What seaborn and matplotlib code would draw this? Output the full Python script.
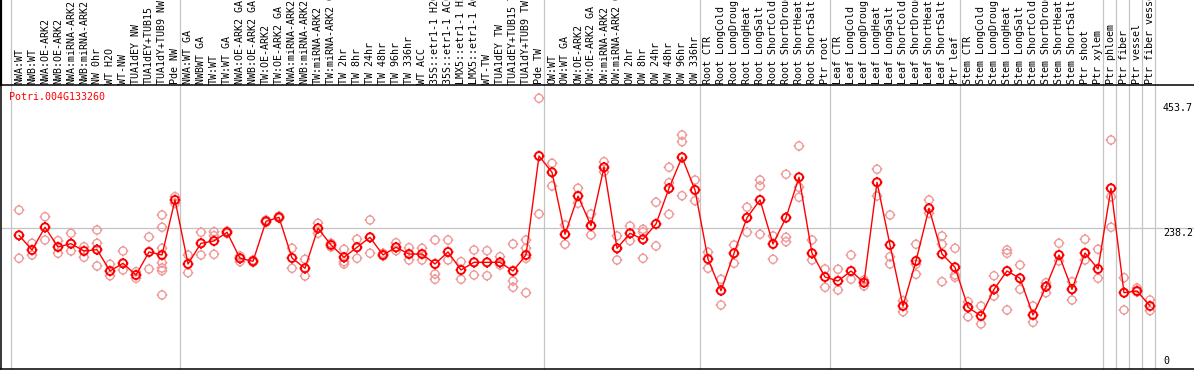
import numpy as np
import pandas as pd
import matplotlib
matplotlib.use("Agg")
import matplotlib.pyplot as plt
import seaborn as sns
from matplotlib.path import Path
from matplotlib.transforms import blended_transform_factory

gene = "Potri.004G133260"

samples = [
    "NWA:WT", "NWB:WT", "NWA:OE-ARK2", "NWB:OE-ARK2", "NWA:miRNA-ARK2", "NWB:miRNA-ARK2",
    "NW 0hr", "WT H2O", "WT-NW", "TUA1dEY NW", "TUA1dEY+TUB15", "TUA1dY+TUB9 NW", "Pde NW",
    "NWA:WT GA", "NWBWT GA", "TW:WT", "TW:WT GA", "NWA:OE-ARK2 GA", "NWB:OE-ARK2 GA",
    "TW:OE-ARK2", "TW:OE-ARK2 GA", "NWA:miRNA-ARK2 GA", "NWB:miRNA-ARK2 GA", "TW:miRNA-ARK2",
    "TW:miRNA-ARK2 GA", "TW 2hr", "TW 8hr", "TW 24hr", "TW 48hr", "TW 96hr", "TW 336hr", "WT ACC",
    "35S::etr1-1 H2O", "35S::etr1-1 ACC", "LMX5::etr1-1 H2O", "LMX5::etr1-1 ACC", "WT-TW",
    "TUA1dEY TW", "TUA1dEY+TUB15 TW", "TUA1dY+TUB9 TW", "Pde TW",
    "OW:WT", "OW:WT GA", "OW:OE-ARK2", "OW:OE-ARK2 GA", "OW:miRNA-ARK2", "OW:miRNA-ARK2 GA",
    "OW 2hr", "OW 8hr", "OW 24hr", "OW 48hr", "OW 96hr", "OW 336hr",
    "Root CTR", "Root LongCold", "Root LongDrought", "Root LongHeat", "Root LongSalt",
    "Root ShortCold", "Root ShortDrought", "Root ShortHeat", "Root ShortSalt", "Ptr root",
    "Leaf CTR", "Leaf LongCold", "Leaf LongDrought", "Leaf LongHeat", "Leaf LongSalt",
    "Leaf ShortCold", "Leaf ShortDrought", "Leaf ShortHeat", "Leaf ShortSalt", "Ptr leaf",
    "Stem CTR", "Stem LongCold", "Stem LongDrought", "Stem LongHeat", "Stem LongSalt",
    "Stem ShortCold", "Stem ShortDrought", "Stem ShortHeat", "Stem ShortSalt", "Ptr shoot",
    "Ptr xylem", "Ptr phloem", "Ptr fiber", "Ptr vessel", "Ptr fiber vessel",
]

means = [
    225.7, 200.3, 239.5, 205.5, 211.2, 198.6, 200.9, 164.1, 177.4, 157.2, 196.9, 191.7, 286.6,
    176.2, 211.9, 215.9, 230.9, 186.0, 180.9, 249.8, 256.7, 186.6, 168.8, 237.8, 209.0, 187.8,
    205.0, 222.2, 191.7, 205.0, 193.4, 193.4, 176.2, 196.9, 165.9, 179.1, 179.1, 179.1, 164.1,
    191.7, 362.4,
    334.3, 227.4, 293.4, 242.2, 342.9, 203.3, 229.1, 218.8, 245.2, 306.7, 360.2, 303.8,
    184.8, 130.2, 194.7, 256.0, 286.6, 210.7, 256.0, 325.7, 194.7, 153.8,
    146.9, 164.1, 144.0, 317.1, 209.0, 103.8, 181.4, 272.2, 193.4, 170.5,
    101.6, 86.6, 132.6, 164.1, 151.6, 88.3, 137.1, 191.7, 132.6, 195.2, 167.6,
    306.7, 126.7, 129.7, 103.8,
]

replicates = [
    [269.3, 186.0], [211.9, 191.7], [257.8, 217.6], [216.4, 194.7], [229.1, 198.6],
    [206.0, 187.8], [234.8, 211.9, 172.8], [175.7, 156.0], [198.6, 165.9], [162.9, 151.6],
    [222.8, 167.6], [260.7, 239.5, 203.3, 178.4, 169.3, 164.7, 122.8], [292.2, 280.9],
    [191.7, 161.2], [230.9, 191.7], [231.9, 225.0, 192.9], [229.0, 233.0], [190.0, 180.2],
    [183.0, 179.0], [252.0, 248.0], [259.0, 255.0], [203.3, 168.8], [184.3, 155.5],
    [246.4, 229.1], [211.9, 205.5], [201.6, 180.2, 176.2], [218.8, 186.0], [252.1, 194.7],
    [194.7, 190.0], [212.9, 199.1], [204.3, 183.1], [203.3, 183.1], [217.6, 158.9, 149.8],
    [217.6, 183.1], [180.2, 149.8], [200.3, 157.2], [199.1, 156.0], [188.8, 174.5],
    [210.7, 146.9, 136.0], [217.6, 203.3, 186.0, 126.7], [262.4, 461.9],
    [349.8, 310.7], [243.4, 210.2], [306.7, 280.9], [262.4, 226.2], [352.6, 335.3],
    [224.5, 183.1], [241.7, 216.4], [236.0, 231.4, 186.0], [282.6, 207.2],
    [342.9, 316.4, 261.9], [398.6, 387.1, 294.0], [321.0, 285.3],
    [196.4, 168.8], [149.8, 105.5], [209.0, 177.4], [274.0, 230.9], [321.0, 310.7, 227.4],
    [224.5, 184.3], [330.9, 222.2, 214.7], [379.7, 308.4, 291.2], [217.6, 183.1], [167.6, 136.0],
    [167.1, 131.4], [191.7, 149.8], [148.6, 138.3], [339.5, 293.4], [260.7, 188.8, 176.2],
    [112.9, 94.0], [210.2, 175.7, 158.4], [286.6, 263.6], [224.5, 210.2, 145.7],
    [203.3, 157.2, 153.3],
    [111.2, 85.3], [103.8, 72.8], [156.0, 121.0], [200.3, 194.7, 96.9], [174.5, 132.6],
    [103.8, 75.7], [144.0, 126.7], [211.9, 181.4], [145.7, 114.1], [218.8, 183.1],
    [201.6, 151.6],
    [390.0, 292.2, 239.5], [152.6, 96.9], [134.8, 127.9], [114.1, 95.7],
]

group_breaks = [0, 13, 41, 53, 63, 73, 84, 85, 86, 87, 88]
y_labels = [453.7, 238.2, 0]

# ---- data frames ----
idx = np.arange(len(samples))
mean_df = pd.DataFrame({"idx": idx, "value": means})
rep_rows = [(i, v) for i, vals in enumerate(replicates) for v in vals]
rep_df = pd.DataFrame(rep_rows, columns=["idx", "value"])

# ---- marker: circle with small ticks ----
theta = np.linspace(0, 2 * np.pi, 33)
verts = [(np.cos(t), np.sin(t)) for t in theta]
codes = [Path.MOVETO] + [Path.LINETO] * (len(theta) - 1)
for a in [0, np.pi / 2, np.pi, 3 * np.pi / 2]:
    verts += [(1.0 * np.cos(a), 1.0 * np.sin(a)), (1.35 * np.cos(a), 1.35 * np.sin(a))]
    codes += [Path.MOVETO, Path.LINETO]
gear = Path(verts, codes)

sns.set_style("white")
plt.rcParams["font.family"] = ["DejaVu Sans Mono", "DejaVu Sans"]

W, H = 1194, 370
fig = plt.figure(figsize=(W / 100, H / 100), dpi=100)
ax = fig.add_axes([1 / W, 1 / H, (W - 1) / W, 284 / H])

px0, step = 19, 13
ax.set_xlim((1 - px0) / step, (W - px0) / step)
ax.set_ylim(-4.83, 484.8)

# replicate points
sns.scatterplot(data=rep_df, x="idx", y="value", ax=ax, marker=gear, s=60,
                facecolors="none", edgecolor="#ee9a9a", linewidth=1.0, zorder=3,
                legend=False)
# mean line and points
sns.lineplot(data=mean_df, x="idx", y="value", ax=ax, color="red", linewidth=1.0,
             zorder=4, legend=False)
sns.scatterplot(data=mean_df, x="idx", y="value", ax=ax, marker=gear, s=60,
                facecolors="none", edgecolor="red", linewidth=1.4, zorder=5,
                legend=False)

# grid / separators
ax.axhline(238.2, color="#c4c4c4", lw=0.9, zorder=1)
top_ext = (H - 1) / 284
for k in group_breaks:
    ax.axvline(k - 8 / step, ymin=0, ymax=top_ext, color="#c4c4c4", lw=0.9,
               clip_on=False, zorder=1)

# spines
for s in ["left", "top", "bottom"]:
    ax.spines[s].set_visible(True)
    ax.spines[s].set_color("black")
    ax.spines[s].set_linewidth(1.1)
ax.spines["right"].set_visible(False)
ax.spines["left"].set_bounds(-4.83, 484.8)

# extend left black line into the header
ax.plot([ax.get_xlim()[0]] * 2, [1.0, top_ext], color="black", lw=1.6,
        transform=blended_transform_factory(ax.transData, ax.transAxes), clip_on=False)

ax.set_xticks([])
ax.set_yticks([])
ax.set_xlabel("")
ax.set_ylabel("")

# sample labels in header
trans = blended_transform_factory(ax.transData, ax.transAxes)
for i, name in enumerate(samples):
    ax.text(i, 1.004, name, rotation=90, ha="center", va="bottom", fontsize=7.2,
            color="black", transform=trans, clip_on=False)

# right-hand value labels
xl = (1163 - px0) / step
for v in y_labels:
    ax.text(xl, v, f"{v:g}" if v == 0 else f"{v}", ha="left",
            va="bottom" if v == 0 else "top", fontsize=7.2, color="black")

# gene name
ax.text(8 / W, 0.958, gene, transform=ax.transAxes, ha="left", va="center",
        fontsize=7.2, color="red")

fig.savefig("out.png", dpi=100)
